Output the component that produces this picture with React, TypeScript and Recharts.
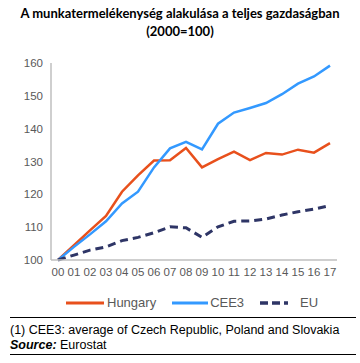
import React from 'react';
import { LineChart, Line, XAxis, YAxis } from 'recharts';

// évek (2000=100)
const years = ['00', '01', '02', '03', '04', '05', '06', '07', '08', '09', '10', '11', '12', '13', '14', '15', '16', '17'];
const hungary = [100, 104.5, 109, 113.4, 120.8, 125.8, 130.3, 130.4, 134.1, 128.2, 130.7, 133, 130.4, 132.6, 132.1, 133.6, 132.7, 135.6];
const cee3 = [100, 104, 107.8, 111.8, 117.2, 120.8, 128.2, 134, 136, 133.7, 141.5, 144.9, 146.3, 147.8, 150.5, 153.7, 155.9, 159.2];
const eu = [100, 101.5, 103, 104, 105.9, 106.9, 108.3, 110.1, 109.8, 106.9, 110.1, 111.8, 111.9, 112.5, 113.7, 114.7, 115.5, 116.6];
const yTicks = [100, 110, 120, 130, 140, 150, 160];

const data = years.map((y, i) => ({ year: y, hungary: hungary[i], cee3: cee3[i], eu: eu[i] }));

const C_HU = '#E8501C';
const C_CEE = '#3399FF';
const C_EU = '#2E3566';
const tickStyle = { fontSize: 11.5, fill: '#595959', fontFamily: 'Liberation Sans, Arial, sans-serif' };

const LegendItem = ({ color, label, dashed, w, gap }: { color: string; label: string; dashed?: boolean; w: number; gap: number }) => (
  <div style={{ display: 'flex', alignItems: 'center', marginRight: 16 }}>
    <svg width={w} height={6} style={{ marginRight: gap }}>
      <line x1={0} y1={3} x2={w} y2={3} stroke={color} strokeWidth={dashed ? 3.5 : 3} strokeDasharray={dashed ? '8 4' : undefined} />
    </svg>
    <span>{label}</span>
  </div>
);

export default function App() {
  return (
    <div style={{ position: 'absolute', left: 0, top: 0, width: 360, height: 363, background: '#fff', overflow: 'hidden' }}>
      <div style={{ position: 'absolute', left: 0, top: 4, width: 360, textAlign: 'center', fontFamily: 'Lato, sans-serif', fontWeight: 700, fontSize: 13, lineHeight: '18px', color: '#000' }}>
        A munkatermelékenység alakulása a teljes gazdaságban
        <br />
        (2000=100)
      </div>
      <div style={{ position: 'absolute', left: 0, top: 0 }}>
        <LineChart width={360} height={290} data={data} margin={{ top: 63, right: 23, bottom: 10, left: 0 }}>
          <XAxis
            dataKey="year"
            interval={0}
            tickLine={false}
            axisLine={{ stroke: '#BFBFBF', strokeWidth: 1.5 }}
            tick={tickStyle}
            padding={{ left: 7, right: 7 }}
            height={20}
          />
          <YAxis
            domain={[100, 160]}
            ticks={yTicks}
            tickLine={false}
            axisLine={{ stroke: '#BFBFBF', strokeWidth: 1.5 }}
            tick={tickStyle}
            width={51}
          />
          <Line dataKey="hungary" stroke={C_HU} strokeWidth={2.5} dot={false} isAnimationActive={false} />
          <Line dataKey="cee3" stroke={C_CEE} strokeWidth={2.5} dot={false} isAnimationActive={false} />
          <Line dataKey="eu" stroke={C_EU} strokeWidth={3} strokeDasharray="8 5" dot={false} isAnimationActive={false} />
        </LineChart>
      </div>
      <div style={{ position: 'absolute', left: 66, top: 295, display: 'flex', fontFamily: 'Liberation Sans, Arial, sans-serif', fontSize: 13, color: '#595959' }}>
        <LegendItem color={C_HU} label="Hungary" w={38} gap={3} />
        <LegendItem color={C_CEE} label="CEE3" w={36} gap={2} />
        <LegendItem color={C_EU} label="EU" dashed w={28} gap={12} />
      </div>
      <div style={{ position: 'absolute', left: 10, top: 317, width: 346, borderTop: '1.5px solid #000', borderBottom: '1.5px solid #000', height: 38, fontFamily: 'Liberation Sans, Arial, sans-serif', fontSize: 12.5, lineHeight: '15px', color: '#000', paddingTop: 5, boxSizing: 'border-box' }}>
        <div>(1) CEE3: average of Czech Republic, Poland and Slovakia</div>
        <div><b><i>Source:</i></b> Eurostat</div>
      </div>
    </div>
  );
}
